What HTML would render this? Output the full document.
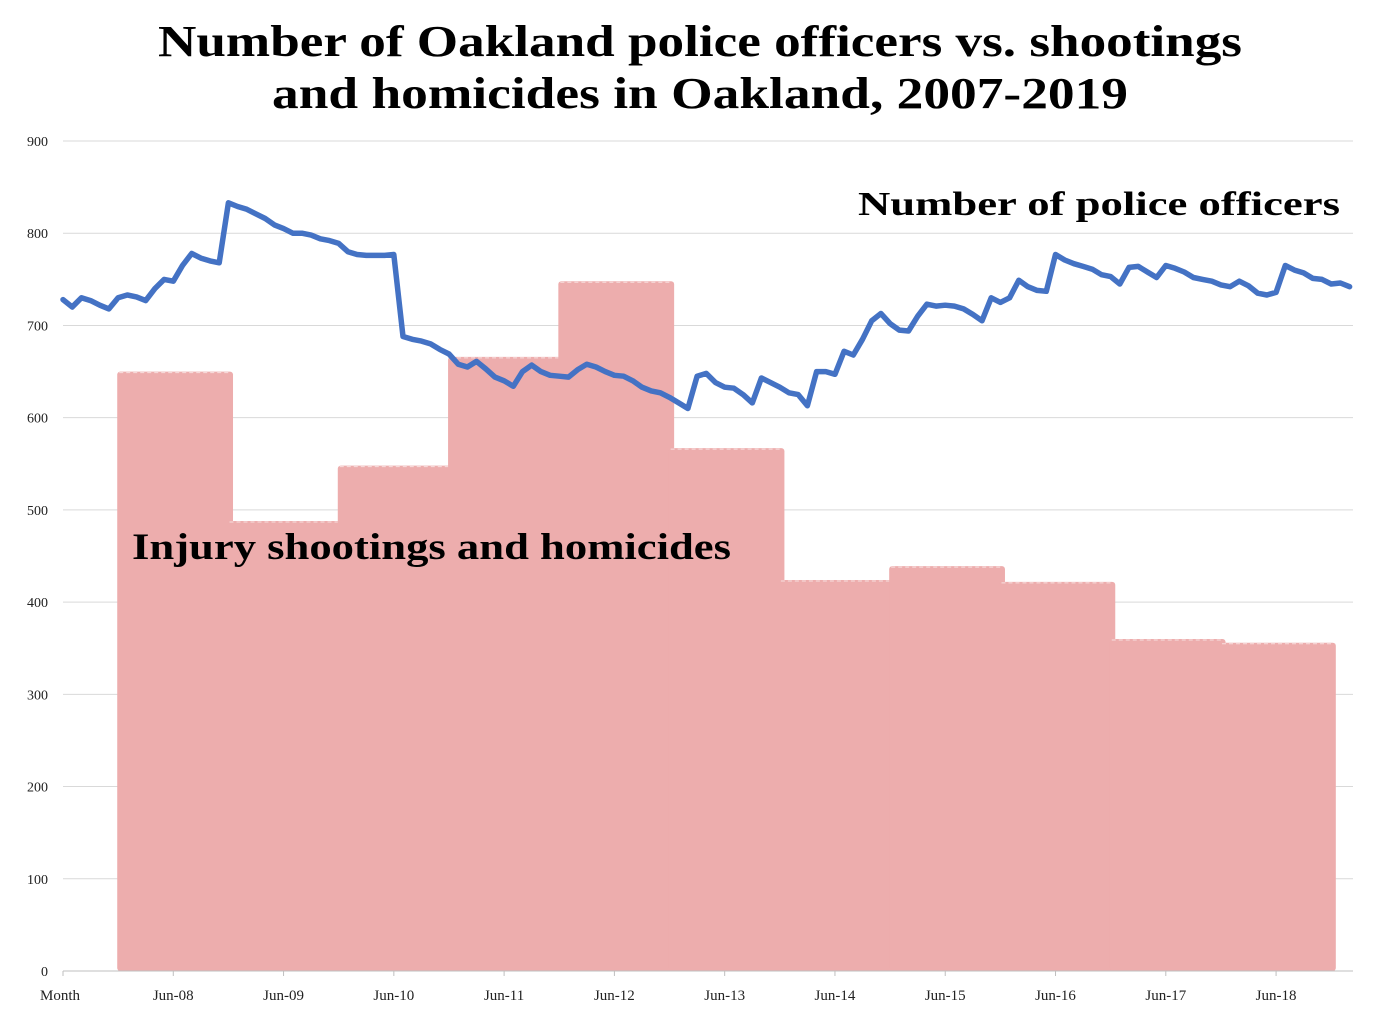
<!DOCTYPE html>
<html><head><meta charset="utf-8"><style>
html,body{margin:0;padding:0;background:#fff;}
svg{display:block;}
text{font-family:"Liberation Serif",serif;}
</style></head><body>
<svg id="chart" width="1400" height="1017" viewBox="0 0 1400 1017" xmlns="http://www.w3.org/2000/svg">
<g>
<text x="700" y="56" text-anchor="middle" font-size="44" font-weight="bold" textLength="1084" lengthAdjust="spacingAndGlyphs">Number of Oakland police officers vs. shootings</text>
<text x="700" y="108" text-anchor="middle" font-size="44" font-weight="bold" textLength="856" lengthAdjust="spacingAndGlyphs">and homicides in Oakland, 2007-2019</text>
</g>
<g id="grid"></g>
<g id="bars"></g>
<g id="axes"></g>
<path id="line" fill="none" stroke="#4472c4" stroke-width="5.5" stroke-linejoin="round" stroke-linecap="round"/>
<text x="858" y="215" font-size="34" font-weight="bold" textLength="482" lengthAdjust="spacingAndGlyphs">Number of police officers</text>
<text x="132" y="559" font-size="37" font-weight="bold" textLength="599" lengthAdjust="spacingAndGlyphs">Injury shootings and homicides</text>
</svg>
<script>
const yTicks=[0,100,200,300,400,500,600,700,800,900];
const xLabels=["Month","Jun-08","Jun-09","Jun-10","Jun-11","Jun-12","Jun-13","Jun-14","Jun-15","Jun-16","Jun-17","Jun-18"];
const xLabelMonths=[0,12,24,36,48,60,72,84,96,108,120,132];
const barYears=[2008,2009,2010,2011,2012,2013,2014,2015,2016,2017,2018];
const barValues=[650,488,548,666,748,567,424,439,422,360,356];
const officers=[728,720,730,727,722,718,730,733,731,727,740,750,748,765,778,773,770,768,833,829,826,821,816,809,805,800,800,798,794,792,789,780,777,776,776,776,777,688,685,683,680,674,669,658,655,661,653,644,640,634,650,657,650,646,645,644,652,658,655,650,646,645,640,633,629,627,622,616,610,645,648,638,633,632,625,616,643,638,633,627,625,613,650,650,647,672,668,685,705,713,702,695,694,710,723,721,722,721,718,712,705,730,725,730,749,742,738,737,777,771,767,764,761,755,753,745,763,764,758,752,765,762,758,752,750,748,744,742,748,743,735,733,736,765,760,757,751,750,745,746,742];
const NS="http://www.w3.org/2000/svg";
const X0=63,X1=1353,MW=9.19,Y0=971,PY=0.9222;
const xm=i=>X0+i*MW;
const yv=v=>Y0-v*PY;
function mk(tag,attrs,parent){const e=document.createElementNS(NS,tag);for(const k in attrs)e.setAttribute(k,attrs[k]);parent.appendChild(e);return e;}
const grid=document.getElementById('grid');
yTicks.forEach(t=>{
  if(t>0){const l=mk('line',{x1:X0,x2:X1,y1:yv(t),y2:yv(t),stroke:'#d9d9d9','stroke-width':1},grid);
  
  }
  const tx=mk('text',{x:48,y:yv(t)+5,'text-anchor':'end','font-size':14,fill:'#222'},grid);
  tx.textContent=t;
  
  
});
const bars=document.getElementById('bars');
barYears.forEach((yr,k)=>{
  const a=xm(5.9+12*k),b=xm(18.5+12*k);
  const r=mk('rect',{x:a,y:yv(barValues[k]),width:b-a,height:Y0-yv(barValues[k]),fill:'#edadad',rx:3},bars);
  
  
  const d=mk('line',{x1:a+2,x2:b-2,y1:yv(barValues[k])+1,y2:yv(barValues[k])+1,stroke:'#fff','stroke-width':1,'stroke-dasharray':'4 3','stroke-opacity':0.6},bars);
  
  
});
const axes=document.getElementById('axes');
const ax=mk('line',{x1:X0,x2:X1,y1:Y0,y2:Y0,stroke:'#bfbfbf','stroke-width':1},axes);


xLabels.forEach((lb,k)=>{
  const x=xm(xLabelMonths[k]);
  const tk=mk('line',{x1:x,x2:x,y1:Y0,y2:Y0+5,stroke:'#bfbfbf'},axes);
  
  
  const t=mk('text',{x:k===0?40:x,y:1000,'text-anchor':k===0?'start':'middle','font-size':15,fill:'#222'},axes);
  t.textContent=lb;
  
  
});
document.getElementById('line').setAttribute('d',officers.map((v,i)=>(i?'L':'M')+xm(i).toFixed(1)+','+yv(v).toFixed(1)).join(''));
</script>
</body></html>
